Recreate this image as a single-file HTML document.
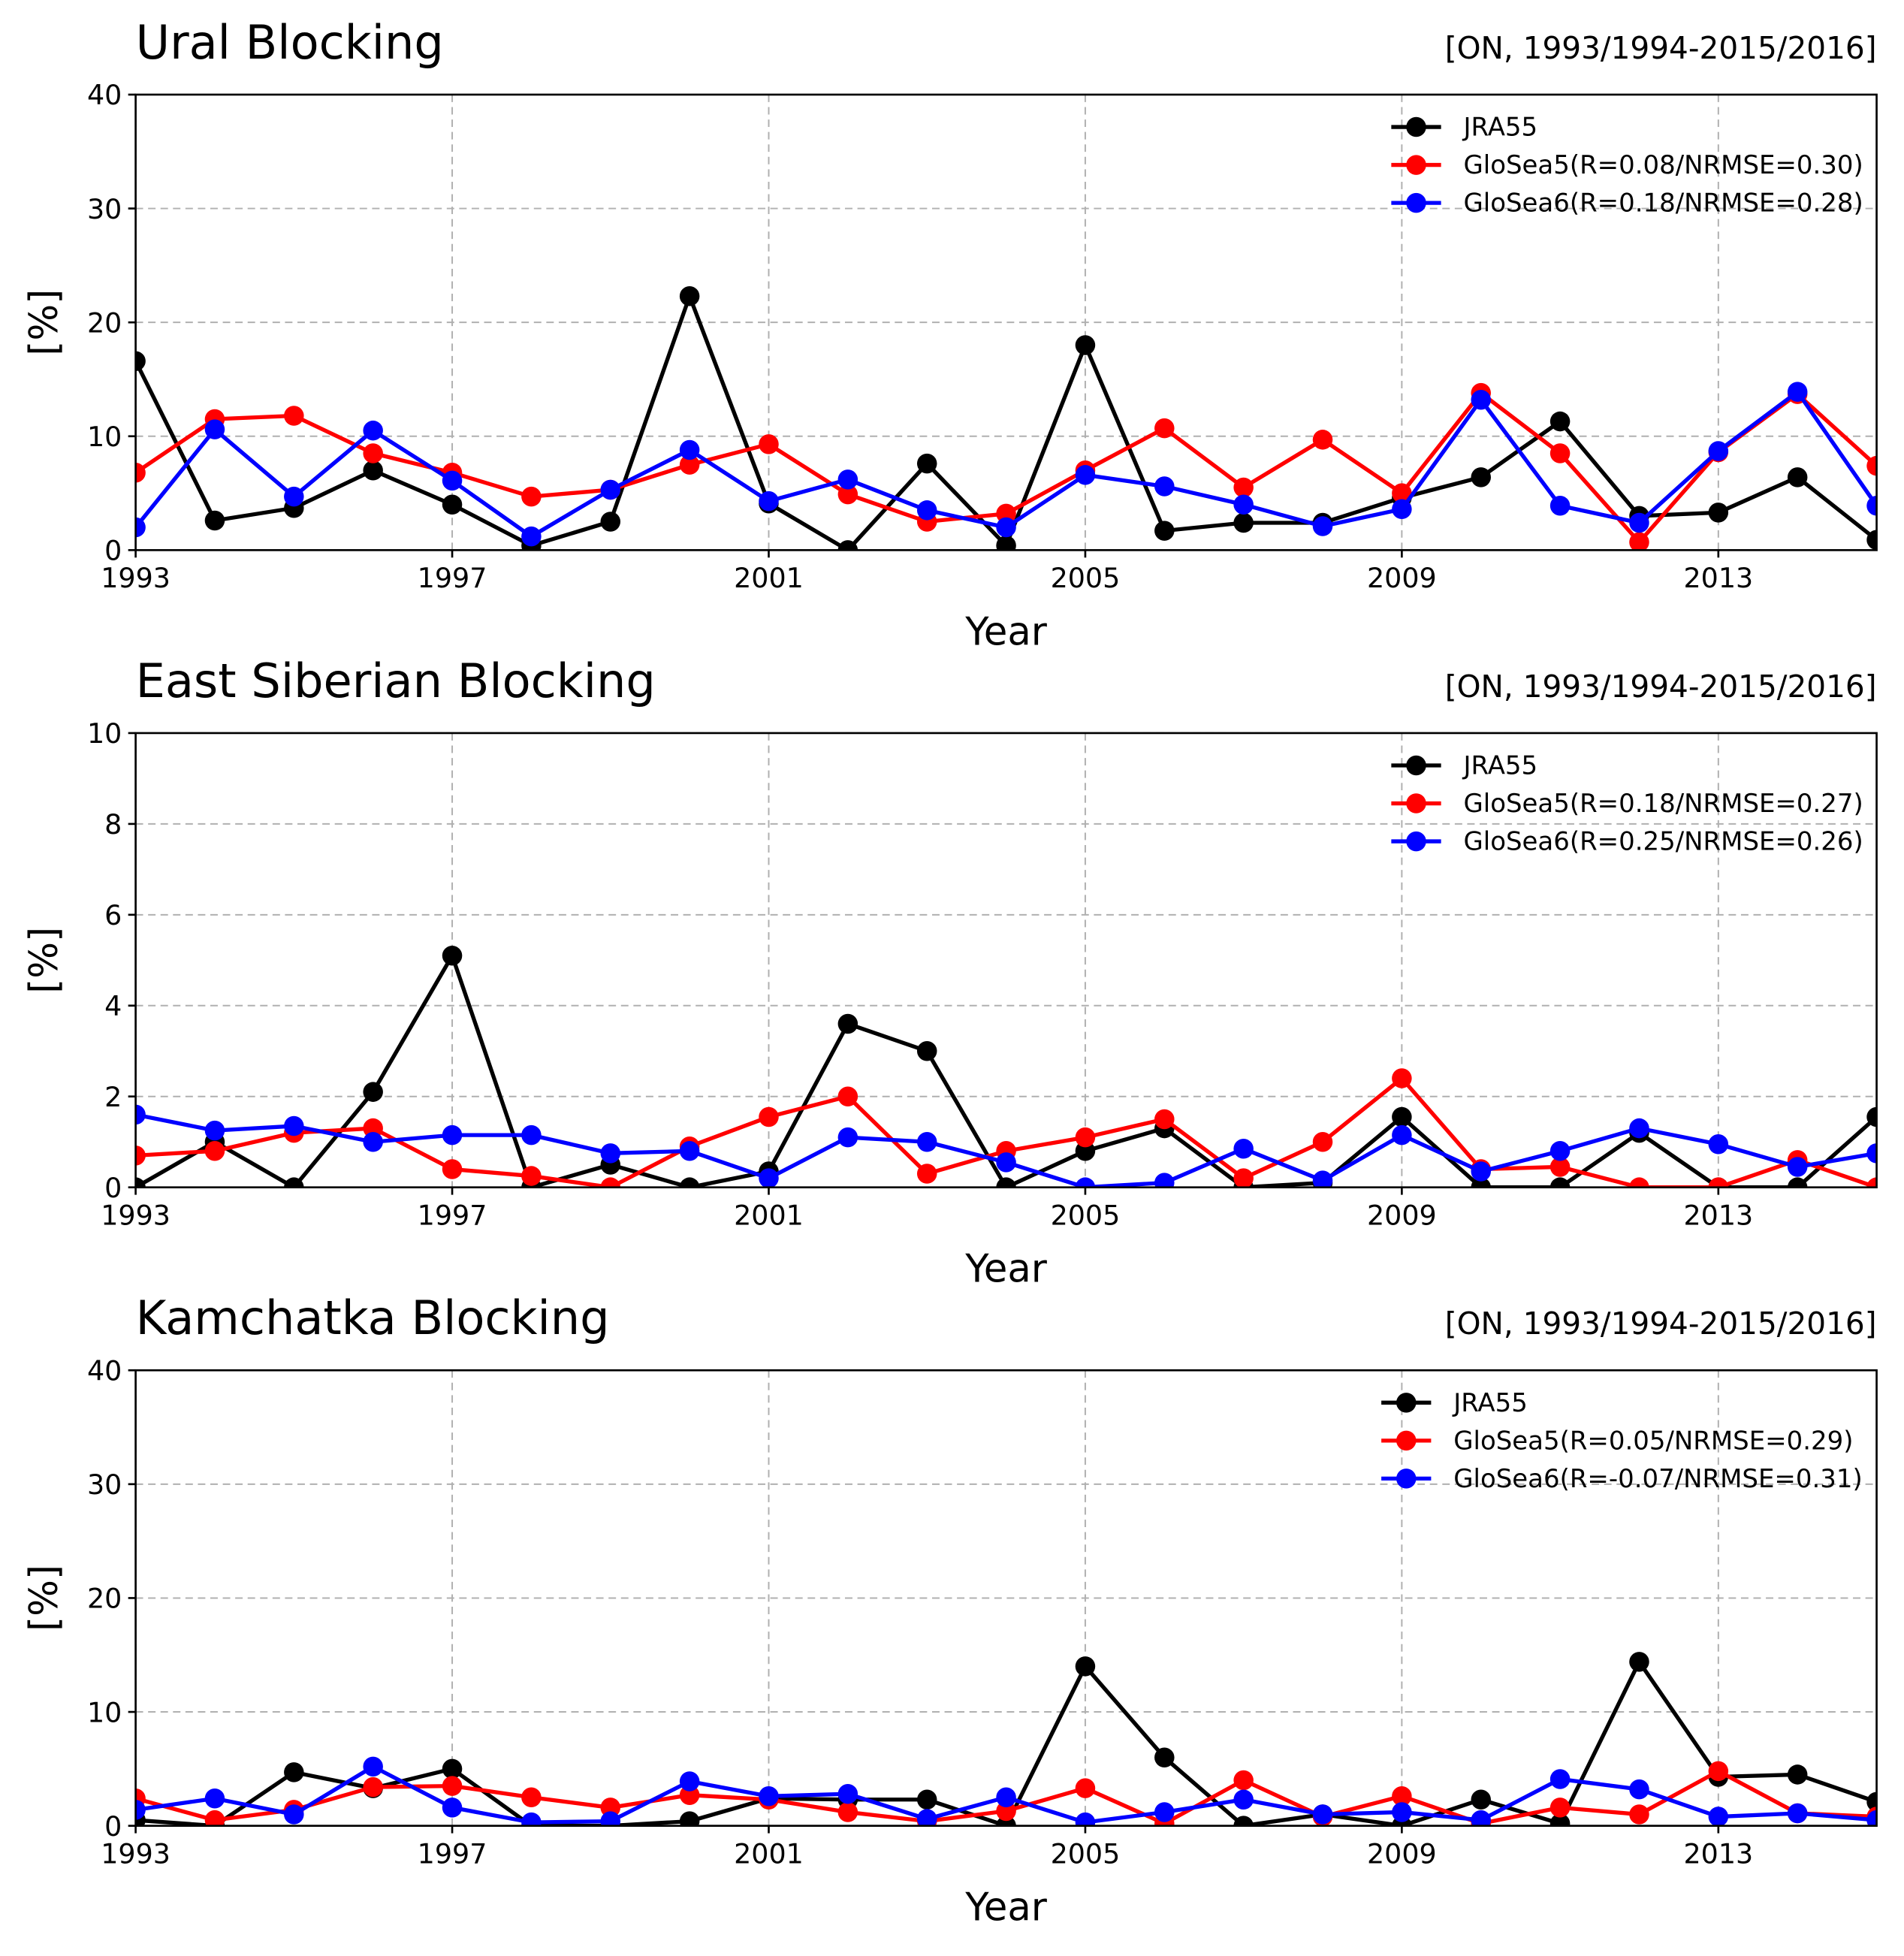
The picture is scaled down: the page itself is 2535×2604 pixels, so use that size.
<!DOCTYPE html>
<html><head><meta charset="utf-8"><style>
html,body{margin:0;padding:0;background:#fff}
svg{display:block}
text{font-family:"DejaVu Sans","Liberation Sans",sans-serif;fill:#000}
</style></head><body>
<svg id="fig" width="2535" height="2604" viewBox="0 0 1530 1571.6" xmlns="http://www.w3.org/2000/svg"></svg>
<script>
const years = [1993,1994,1995,1996,1997,1998,1999,2000,2001,2002,2003,2004,2005,2006,2007,2008,2009,2010,2011,2012,2013,2014,2015];
const xTicks = [1993,1997,2001,2005,2009,2013];
const uralJRA = [16.6,2.6,3.7,7.0,4.0,0.4,2.5,22.3,4.1,0.0,7.6,0.4,18.0,1.7,2.4,2.4,4.6,6.4,11.3,3.0,3.3,6.4,0.9];
const uralG5 = [6.8,11.5,11.8,8.5,6.8,4.7,5.3,7.5,9.3,4.9,2.5,3.2,7.0,10.7,5.5,9.7,5.0,13.8,8.5,0.7,8.6,13.7,7.4];
const uralG6 = [2.0,10.6,4.7,10.5,6.1,1.2,5.3,8.8,4.3,6.2,3.5,2.0,6.6,5.6,4.0,2.1,3.6,13.2,3.9,2.4,8.7,13.9,3.9];
const esJRA = [0.0,1.0,0.0,2.1,5.1,0.0,0.5,0.0,0.35,3.6,3.0,0.0,0.8,1.3,0.0,0.1,1.55,0.0,0.0,1.2,0.0,0.0,1.55];
const esG5 = [0.7,0.8,1.2,1.3,0.4,0.25,0.0,0.9,1.55,2.0,0.3,0.8,1.1,1.5,0.2,1.0,2.4,0.4,0.45,0.0,0.0,0.6,0.0];
const esG6 = [1.6,1.25,1.35,1.0,1.15,1.15,0.75,0.8,0.2,1.1,1.0,0.55,0.0,0.1,0.85,0.15,1.15,0.35,0.8,1.3,0.95,0.45,0.75];
const kaJRA = [0.5,0.0,4.7,3.3,5.0,0.0,0.0,0.4,2.4,2.3,2.3,0.0,14.0,6.0,0.0,1.0,0.0,2.3,0.2,14.4,4.3,4.5,2.1];
const kaG5 = [2.4,0.5,1.4,3.4,3.5,2.5,1.6,2.7,2.3,1.2,0.4,1.3,3.3,0.2,4.0,0.8,2.6,0.2,1.6,1.0,4.8,1.1,0.8];
const kaG6 = [1.4,2.4,1.0,5.2,1.6,0.3,0.4,3.9,2.6,2.8,0.6,2.5,0.3,1.2,2.3,1.0,1.2,0.5,4.1,3.2,0.8,1.1,0.5];
const yTicks40 = [0,10,20,30,40];
const yTicks10 = [0,2,4,6,8,10];
const titles = ["Ural Blocking","East Siberian Blocking","Kamchatka Blocking"];
const legendUral = ["JRA55","GloSea5(R=0.08/NRMSE=0.30)","GloSea6(R=0.18/NRMSE=0.28)"];
const legendES = ["JRA55","GloSea5(R=0.18/NRMSE=0.27)","GloSea6(R=0.25/NRMSE=0.26)"];
const legendKa = ["JRA55","GloSea5(R=0.05/NRMSE=0.29)","GloSea6(R=-0.07/NRMSE=0.31)"];

const NS="http://www.w3.org/2000/svg";
const svg=document.getElementById('fig');
function el(tag,attrs,parent){const e=document.createElementNS(NS,tag);for(const k in attrs)e.setAttribute(k,attrs[k]);(parent||svg).appendChild(e);return e;}
const colors=["#000000","#ff0000","#0000ff"];
const X0=109,X1=1508;
function xs(y){return X0+(y-1993)/(2015-1993)*(X1-X0);}

function panel(i,top,bot,ymax,yt,series,legend,legX,slug){
  const g=el('g',{});
  
  
  const ys=v=>bot-v/ymax*(bot-top);
  const cp=el('clipPath',{id:'cp'+i},g);
  el('rect',{x:X0,y:top,width:X1-X0,height:bot-top},cp);
  xTicks.forEach(t=>{const l=el('line',{x1:xs(t),x2:xs(t),y1:top,y2:bot,stroke:'#b0b0b0','stroke-width':1.2,'stroke-dasharray':'6,4'},g);
    });
  yt.forEach(t=>{const l=el('line',{x1:X0,x2:X1,y1:ys(t),y2:ys(t),stroke:'#b0b0b0','stroke-width':1.2,'stroke-dasharray':'6,4'},g);
    });
  const names=['jra55','glosea5','glosea6'];
  series.forEach((s,k)=>{
    const sg=el('g',{'clip-path':'url(#cp'+i+')'},g);
    
    
    el('polyline',{points:s.map((v,j)=>xs(years[j])+','+ys(v)).join(' '),fill:'none',stroke:colors[k],'stroke-width':3.2},sg);
    s.forEach((v,j)=>{const c=el('circle',{cx:xs(years[j]),cy:ys(v),r:8,fill:colors[k]},sg);
      });
  });
  const fr=el('rect',{x:X0,y:top,width:X1-X0,height:bot-top,fill:'none',stroke:'#000','stroke-width':1.6},g);
  
  xTicks.forEach(t=>{el('line',{x1:xs(t),x2:xs(t),y1:bot,y2:bot+6,stroke:'#000','stroke-width':1.6},g);
    const tx=el('text',{x:xs(t),y:bot+30,'font-size':22,'text-anchor':'middle'},g);tx.textContent=t;
    });
  yt.forEach(t=>{el('line',{x1:X0-6,x2:X0,y1:ys(t),y2:ys(t),stroke:'#000','stroke-width':1.6},g);
    const tx=el('text',{x:X0-11,y:ys(t)+8,'font-size':22,'text-anchor':'end'},g);tx.textContent=t;
    });
  const tt=el('text',{x:X0,y:top-29,'font-size':37.5},g);tt.textContent=titles[i];
  
  const st=el('text',{x:X1,y:top-29,'font-size':24.5,'text-anchor':'end'},g);st.textContent='[ON, 1993/1994-2015/2016]';
  
  const xl=el('text',{x:(X0+X1)/2,y:bot+76,'font-size':31,'text-anchor':'middle'},g);xl.textContent='Year';
  
  const cy=(top+bot)/2;
  const yl=el('text',{x:46,y:cy,'font-size':31,'text-anchor':'middle',transform:'rotate(-90 46 '+cy+')'},g);yl.textContent='[%]';
  
  legend.forEach((lab,k)=>{const ry=top+26+k*30.5;
    const lg=el('g',{},g);
    el('line',{x1:legX,x2:legX+40,y1:ry,y2:ry,stroke:colors[k],'stroke-width':3.2},lg);
    el('circle',{cx:legX+20,cy:ry,r:8,fill:colors[k]},lg);
    const t=el('text',{x:legX+58,y:ry+7,'font-size':20.5},lg);t.textContent=lab;});
}
panel(0,76,442,40,yTicks40,[uralJRA,uralG5,uralG6],legendUral,1118,'ural');
panel(1,589,954,10,yTicks10,[esJRA,esG5,esG6],legendES,1118,'east-siberian');
panel(2,1101,1467,40,yTicks40,[kaJRA,kaG5,kaG6],legendKa,1110,'kamchatka');
</script>
</body></html>
